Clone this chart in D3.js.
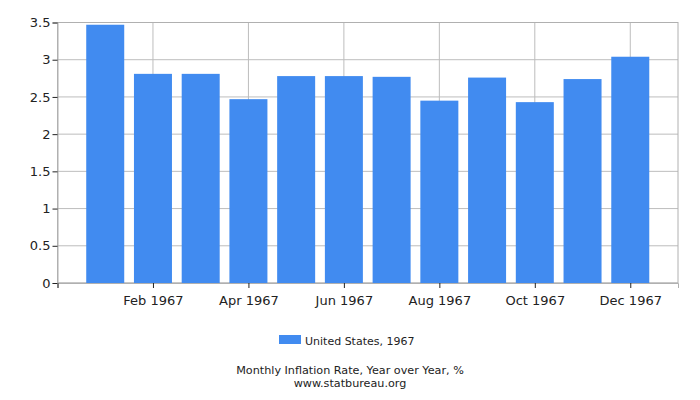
<!DOCTYPE html>
<html lang="en">
<head>
<meta charset="utf-8">
<title>Monthly Inflation Rate, United States 1967</title>
<script src="https://cdn.jsdelivr.net/npm/d3@7"></script>
<style>
    body { margin: 0; background: #fff; }
    text { font-family: "DejaVu Sans", sans-serif; fill: #222; }
</style>
</head>
<body>
<div id="chart"></div>
<script>
    // data
    const months = ['Jan', 'Feb', 'Mar', 'Apr', 'May', 'Jun', 'Jul', 'Aug', 'Sep', 'Oct', 'Nov', 'Dec'];
    const values = [3.47, 2.81, 2.81, 2.47, 2.78, 2.78, 2.77, 2.45, 2.76, 2.43, 2.74, 3.04];
    const tick_months = ['Feb', 'Apr', 'Jun', 'Aug', 'Oct', 'Dec'];
    const y_ticks = [0, 0.5, 1, 1.5, 2, 2.5, 3, 3.5];
    const series_name = 'United States, 1967';
    const year = 1967;

    const width = 700, height = 400,
        margin = {top: 22.5, right: 22, bottom: 117, left: 57.5},
        inner = {w: width - margin.left - margin.right, h: height - margin.top - margin.bottom};

    const svg = d3.select('#chart').append('svg')
        .attr('width', width)
        .attr('height', height);

    // month index scale: one empty month either side (Dec of previous year .. Jan of next)
    const x = d3.scaleLinear()
        .domain([-1, 12])
        .range([0, inner.w]);
    const y = d3.scaleLinear()
        .domain([0, 3.5])
        .range([inner.h, 0]);

    const chart = svg.append('g')
        .attr('transform', `translate(${margin.left}, ${margin.top})`);

    const tick_idx = tick_months.map(m => months.indexOf(m));

    // grid
    chart.append('g').selectAll('line')
        .data(y_ticks)
        .join('line')
            .attr('x1', 0).attr('x2', inner.w)
            .attr('y1', d => y(d)).attr('y2', d => y(d))
            .attr('stroke', '#bdbdbd');
    chart.append('g').selectAll('line')
        .data(tick_idx)
        .join('line')
            .attr('x1', d => x(d)).attr('x2', d => x(d))
            .attr('y1', 0).attr('y2', inner.h)
            .attr('stroke', '#bdbdbd');
    chart.append('rect')
        .attr('width', inner.w).attr('height', inner.h)
        .attr('fill', 'none').attr('stroke', '#b0b0b0');

    // bars
    const bar_w = 38;
    chart.append('g').selectAll('rect')
        .data(values)
        .join('rect')
            .attr('x', (d, i) => x(i) - bar_w / 2)
            .attr('y', d => y(d))
            .attr('width', bar_w)
            .attr('height', d => inner.h - y(d))
            .attr('fill', '#418bf0');

    // axes
    const x_axis = chart.append('g')
        .attr('transform', `translate(0, ${inner.h})`)
        .call(d3.axisBottom(x).tickValues([-1, ...tick_idx])
            .tickFormat(d => d < 0 ? '' : `${months[d]} ${year}`)
            .tickSize(5).tickPadding(8));
    x_axis.select('.domain').attr('stroke', '#b0b0b0');
    x_axis.selectAll('.tick line').attr('stroke', '#222');
    x_axis.selectAll('text').style('font-size', '13px');

    const y_axis = chart.append('g')
        .call(d3.axisLeft(y).tickValues(y_ticks).tickFormat(d3.format('')).tickSize(5).tickPadding(2));
    y_axis.select('.domain').attr('stroke', '#b0b0b0');
    y_axis.selectAll('.tick line').attr('stroke', '#222');
    y_axis.selectAll('text').style('font-size', '13px');

    // legend
    const legend = svg.append('g').attr('transform', 'translate(279, 335)');
    legend.append('rect')
        .attr('width', 22).attr('height', 9)
        .attr('fill', '#418bf0');
    legend.append('text')
        .attr('x', 26).attr('y', 9.5)
        .style('font-size', '11px')
        .text(series_name);

    // title
    svg.append('text')
        .attr('x', 350).attr('y', 373.5)
        .attr('text-anchor', 'middle')
        .style('font-size', '11.2px')
        .text('Monthly Inflation Rate, Year over Year, %');
    svg.append('text')
        .attr('x', 350).attr('y', 386.5)
        .attr('text-anchor', 'middle')
        .style('font-size', '11.2px')
        .text('www.statbureau.org');
</script>
</body>
</html>
